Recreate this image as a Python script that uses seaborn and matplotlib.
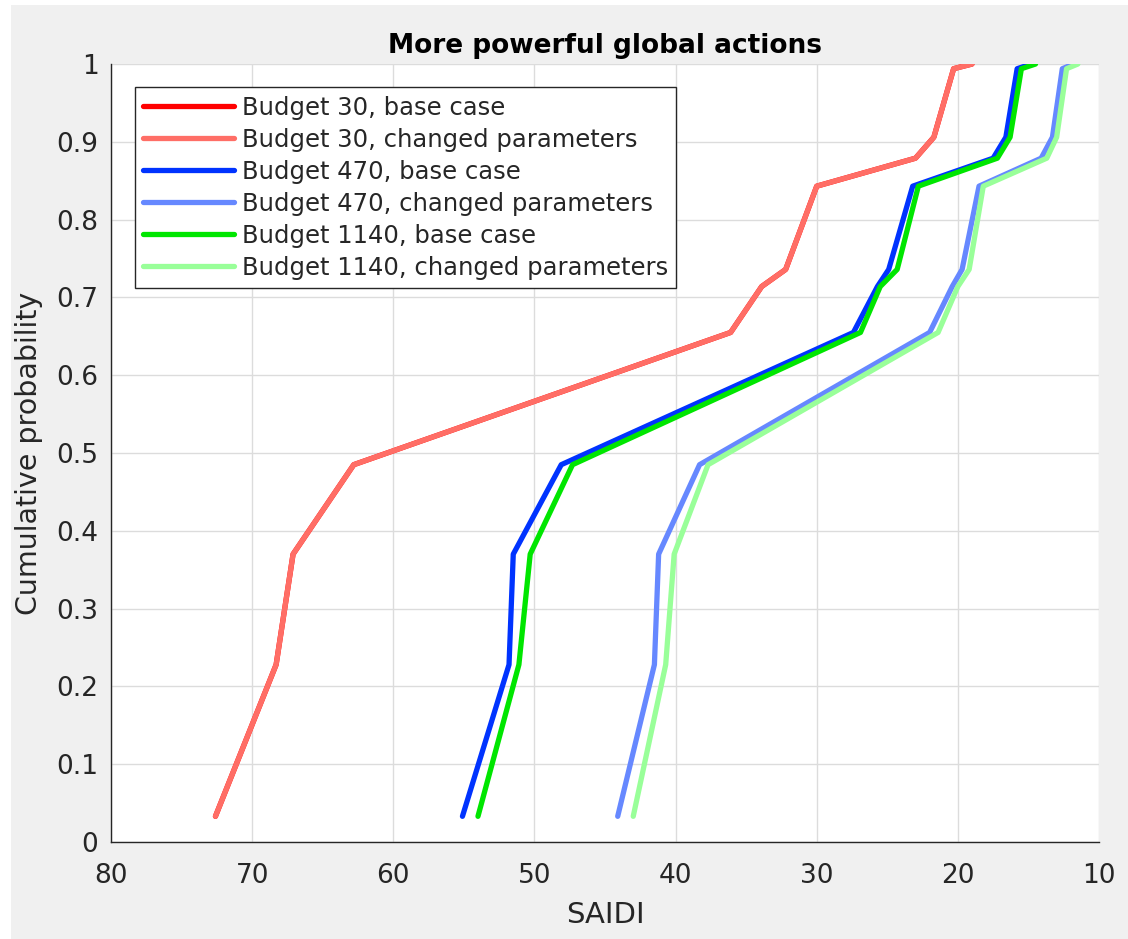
import numpy as np
import pandas as pd
import matplotlib
matplotlib.use("Agg")
import matplotlib.pyplot as plt
from matplotlib.patches import Rectangle
import seaborn as sns

# cumulative probability levels shared by all curves
prob = [0.033, 0.228, 0.370, 0.485, 0.655, 0.714, 0.736, 0.843, 0.879, 0.906, 0.994, 1.0]

# SAIDI values
b30_base = [72.6, 68.3, 67.1, 62.8, 36.1, 33.9, 32.2, 30.0, 23.0, 21.7, 20.3, 19.0]
b30_changed = [72.6, 68.3, 67.1, 62.8, 36.1, 33.9, 32.2, 30.0, 23.0, 21.7, 20.3, 19.0]
b470_base = [55.1, 51.8, 51.5, 48.1, 27.4, 25.7, 24.9, 23.2, 17.5, 16.6, 15.8, 14.8]
b470_changed = [44.1, 41.5, 41.2, 38.3, 22.0, 20.4, 19.7, 18.5, 14.1, 13.3, 12.6, 11.8]
b1140_base = [54.0, 51.1, 50.3, 47.3, 26.9, 25.5, 24.3, 22.8, 17.2, 16.3, 15.5, 14.5]
b1140_changed = [43.0, 40.7, 40.1, 37.7, 21.4, 20.0, 19.2, 18.2, 13.7, 13.0, 12.3, 11.5]

labels = [
    "Budget 30, base case",
    "Budget 30, changed parameters",
    "Budget 470, base case",
    "Budget 470, changed parameters",
    "Budget 1140, base case",
    "Budget 1140, changed parameters",
]
series = [b30_base, b30_changed, b470_base, b470_changed, b1140_base, b1140_changed]
colors = ["#ff0000", "#ff6e66", "#0033ff", "#6688ff", "#00e600", "#99ff99"]

sns.set_style("white")
plt.rcParams["font.family"] = ["DejaVu Sans"]

fig = plt.figure(figsize=(11.28, 9.39), dpi=100, facecolor="white")
# grey window background (screenshot has a thin white strip at left/top)
fig.patches.append(Rectangle((11 / 1128, 0), 1 - 11 / 1128, 1 - 5 / 939,
                             transform=fig.transFigure, facecolor="#f0f0f0",
                             edgecolor="none", zorder=-10))
ax = fig.add_axes([0.0984, 0.1033, 0.8759, 0.8285])

for lab, vals, col in zip(labels, series, colors):
    df = pd.DataFrame({"SAIDI": vals, "p": prob})
    sns.lineplot(data=df, x="SAIDI", y="p", sort=False, color=col,
                 linewidth=3.8, label=lab, ax=ax)

ax.set_xlim(80, 10)
ax.set_ylim(0, 1)
ax.set_xticks(np.arange(80, 9, -10))
ax.set_yticks(np.arange(0, 1.01, 0.1))
ax.set_yticklabels(["0", "0.1", "0.2", "0.3", "0.4", "0.5", "0.6", "0.7", "0.8", "0.9", "1"])
ax.grid(True, color="#dcdcdc", linewidth=1)
ax.set_axisbelow(True)

for s in ["top", "right"]:
    ax.spines[s].set_visible(False)
for s in ["left", "bottom"]:
    ax.spines[s].set_color("#262626")
    ax.spines[s].set_linewidth(1)
ax.tick_params(direction="in", length=7, width=1, color="#262626",
               labelsize=19, labelcolor="#262626", pad=9)
ax.tick_params(axis="x", pad=15)

ax.set_xlabel("SAIDI", fontsize=21, color="#262626", labelpad=9)
ax.set_ylabel("Cumulative probability", fontsize=20.5, color="#262626", labelpad=10)
ax.set_title("More powerful global actions", fontsize=19, fontweight="bold",
             color="black", pad=8)

leg = ax.legend(loc="upper left", bbox_to_anchor=(0.024, 0.97), borderaxespad=0,
                fontsize=17.5, frameon=True, fancybox=False, framealpha=1,
                edgecolor="#262626", handlelength=3.75, handletextpad=0.3,
                labelspacing=0.33, borderpad=0.35)
leg.get_frame().set_linewidth(1)
for t in leg.get_texts():
    t.set_color("#262626")

fig.savefig("out.png", dpi=100, facecolor=fig.get_facecolor())
